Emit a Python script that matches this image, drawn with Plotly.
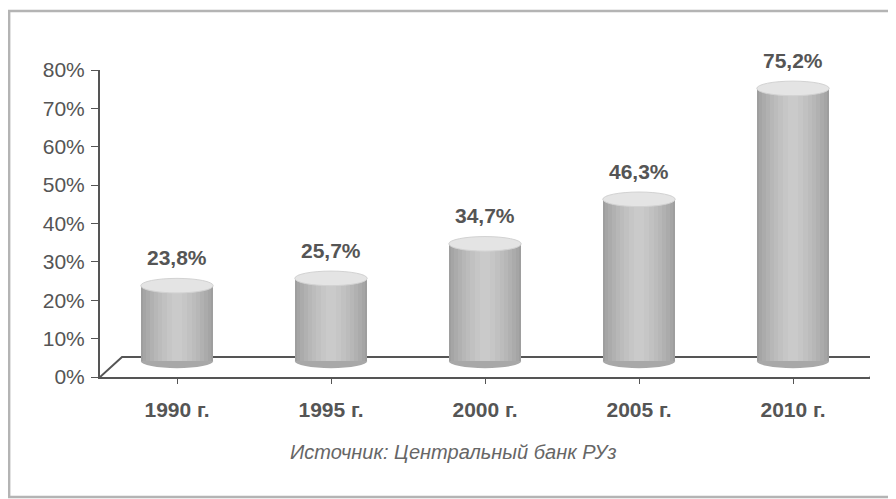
import plotly.graph_objects as go

# Data
years = ["1990 г.", "1995 г.", "2000 г.", "2005 г.", "2010 г."]
share = [23.8, 25.7, 34.7, 46.3, 75.2]
value_labels = ["23,8%", "25,7%", "34,7%", "46,3%", "75,2%"]
y_ticks = [0, 10, 20, 30, 40, 50, 60, 70, 80]
y_tick_text = ["0%", "10%", "20%", "30%", "40%", "50%", "60%", "70%", "80%"]
source = "Источник: Центральный банк РУз"

FONT = "Arial, Liberation Sans, sans-serif"
TEXT = "#555555"
base = 4.2       # cylinders stand in the middle of the floor
ry = 1.9         # half height of the ellipse caps, in axis units
half_w = 0.235   # cylinder half width, in category units

fig = go.Figure()

# shaded cylinder bodies: narrower, lighter layers on top of each other
layers = [(0.47, "#9e9e9e"), (0.44, "#a5a5a5"), (0.40, "#ababab"),
          (0.35, "#b1b1b1"), (0.30, "#b7b7b7"), (0.25, "#bcbcbc"),
          (0.19, "#c1c1c1"), (0.13, "#c6c6c6"), (0.07, "#cacaca")]
for w, c in layers:
    fig.add_trace(go.Bar(
        x=list(range(len(years))), y=[v - base for v in share], base=base,
        width=w, marker=dict(color=c, line=dict(width=0)),
        hoverinfo="skip", showlegend=False,
    ))

shapes = []
# 3D floor
shapes.append(dict(type="path", xref="x", yref="y",
                   path="M -0.5,0 L -0.357,5.2 L 4.643,5.2 L 4.5,0",
                   line=dict(color="#555555", width=2), layer="below"))
for i, v in enumerate(share):
    # bottom cap
    shapes.append(dict(type="circle", xref="x", yref="y", layer="below",
                       x0=i - half_w, x1=i + half_w, y0=base - ry, y1=base + ry,
                       fillcolor="#a8a8a8", line=dict(width=0)))
    # top cap
    shapes.append(dict(type="circle", xref="x", yref="y", layer="above",
                       x0=i - half_w, x1=i + half_w, y0=v - ry, y1=v + ry,
                       fillcolor="#e4e4e4", line=dict(color="#d2d2d2", width=1)))
# frame around the whole chart
shapes.append(dict(type="rect", xref="paper", yref="paper",
                   x0=-0.118, x1=1.0325, y0=-0.391, y1=1.192,
                   line=dict(color="#b4b4b4", width=2.5)))

annotations = []
for i, (v, t) in enumerate(zip(share, value_labels)):
    annotations.append(dict(x=i, y=v, text=f"<b>{t}</b>", showarrow=False,
                            yshift=28, yanchor="middle",
                            font=dict(family=FONT, size=21, color=TEXT)))
annotations.append(dict(x=0.458, y=-0.244, xref="paper", yref="paper",
                        text=f"<i>{source}</i>", showarrow=False,
                        xanchor="center", yanchor="middle",
                        font=dict(family=FONT, size=20, color="#666666")))

fig.update_layout(
    width=888, height=491,
    margin=dict(l=92, r=26, t=62, b=122),
    paper_bgcolor="white", plot_bgcolor="white",
    barmode="overlay", bargap=0,
    shapes=shapes, annotations=annotations,
)
fig.update_xaxes(
    range=[-0.5, 4.5], tickmode="array",
    tickvals=list(range(len(years))), ticktext=[f"<b>{y}</b>" for y in years],
    tickson="boundaries", ticks="outside", ticklen=5, tickcolor="#555555",
    showline=True, linecolor="#555555", linewidth=2, showgrid=False,
    tickfont=dict(family=FONT, size=21, color=TEXT), ticklabelstandoff=8,
    zeroline=False,
)
fig.update_yaxes(
    range=[0, 80], tickmode="array", tickvals=y_ticks, ticktext=y_tick_text,
    ticks="outside", ticklen=7, tickcolor="#555555",
    showline=True, linecolor="#555555", linewidth=2, showgrid=False,
    tickfont=dict(family=FONT, size=21, color=TEXT), ticklabelstandoff=2,
    zeroline=False,
)

fig.write_html("out.html")
